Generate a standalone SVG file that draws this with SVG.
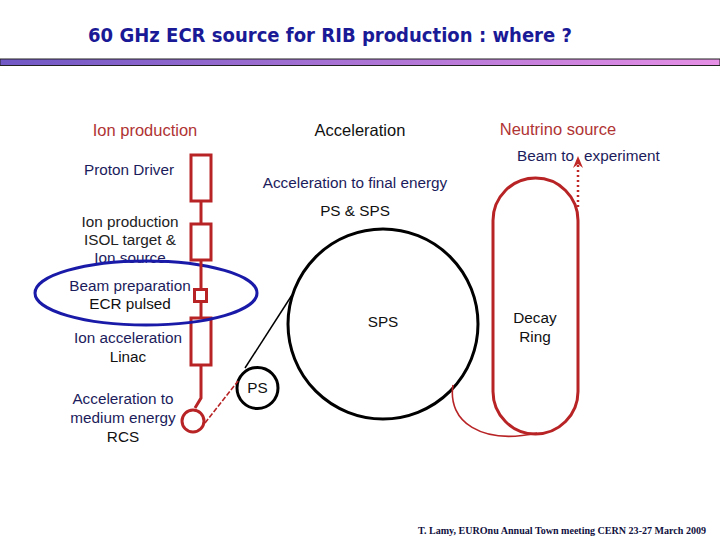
<svg xmlns="http://www.w3.org/2000/svg" width="720" height="540" viewBox="0 0 720 540">
<defs>
<linearGradient id="bar" x1="0" y1="0" x2="1" y2="0">
<stop offset="0" stop-color="#7058c4"/>
<stop offset="1" stop-color="#e690e6"/>
</linearGradient>
<marker id="arr" viewBox="0 0 12 10" refX="11" refY="5" markerWidth="12" markerHeight="10" orient="auto" markerUnits="userSpaceOnUse">
<path d="M12,5 L0,0 L4,5 L0,10 Z" fill="#c02828"/>
</marker>
<style>
text{font-family:"Liberation Sans",Arial,sans-serif;font-size:15.3px;text-anchor:middle}
.nv{fill:#1c1c5c}
.bk{fill:#111}
.hd{fill:#b03434;font-size:16.5px}
.red{fill:none;stroke:#b82426;stroke-width:3}
.thin{fill:none;stroke:#b82426;stroke-width:1.6}
.blk{fill:none;stroke:#000;stroke-width:3}
</style>
</defs>
<rect width="720" height="540" fill="#fff"/>
<g id="title">
<text x="330" y="42" style="font-family:'DejaVu Sans',sans-serif;font-size:19px;font-weight:bold;fill:#1a1a96" textLength="484" lengthAdjust="spacingAndGlyphs">60 GHz ECR source for RIB production : where ?</text>
<rect x="0" y="59" width="720" height="6.5" fill="url(#bar)" stroke="#222" stroke-width="1"/>
</g>
<g id="headers">
<text class="hd" x="145" y="136">Ion production</text>
<text class="bk" x="360" y="136" style="font-size:16.5px">Acceleration</text>
<text class="hd" x="558" y="135">Neutrino source</text>
</g>
<g id="proton-driver">
<rect x="191" y="155" width="20" height="46" class="red"/>
<text class="nv" x="129" y="175">Proton Driver</text>
</g>
<g id="isol">
<rect x="191" y="224" width="20" height="36" class="red"/>
<text class="bk" x="130" y="227" style="fill:#222">Ion production</text>
<text class="bk" x="130" y="245" style="fill:#222">ISOL target &amp;</text>
<text class="nv" x="130" y="263">Ion source</text>
</g>
<g id="ecr">
<rect x="194.5" y="289.5" width="12" height="12" class="red"/>
<text class="nv" x="130" y="291">Beam preparation</text>
<text class="bk" x="130" y="309">ECR pulsed</text>
</g>
<g id="linac">
<rect x="191" y="318" width="20" height="47" class="red"/>
<text class="nv" x="128" y="343">Ion acceleration</text>
<text class="bk" x="128" y="362">Linac</text>
</g>
<g id="rcs">
<circle cx="193" cy="421" r="11" class="red"/>
<text class="nv" x="123" y="404">Acceleration to</text>
<text class="nv" x="123" y="423">medium energy</text>
<text class="bk" x="123" y="442">RCS</text>
</g>
<g id="highlight">
<ellipse cx="146" cy="293" rx="111" ry="32" fill="none" stroke="#1a1aa8" stroke-width="3"/>
</g>
<g id="ps">
<circle cx="257.5" cy="388" r="20.5" class="blk"/>
<text class="bk" x="257.5" y="393">PS</text>
</g>
<g id="sps">
<circle cx="383" cy="324" r="95" class="blk"/>
<text class="bk" x="383" y="327">SPS</text>
<text class="nv" x="355" y="188">Acceleration to final energy</text>
<text class="bk" x="355" y="216">PS &amp; SPS</text>
</g>
<g id="decay-ring">
<rect x="493" y="178" width="85" height="256" rx="42.5" ry="42.5" class="red"/>
<text class="bk" x="535" y="323">Decay</text>
<text class="bk" x="535" y="342">Ring</text>
<text class="nv" x="517" y="161" style="text-anchor:start">Beam to<tspan x="584">experiment</tspan></text>
</g>
<g id="connectors">
<line x1="201" y1="201" x2="201" y2="223" class="red" stroke-width="2"/>
<line x1="201" y1="260" x2="201" y2="289" class="red" stroke-width="2"/>
<line x1="201" y1="302" x2="201" y2="318" class="red" stroke-width="2"/>
<polyline points="201,365 201,398 195,408" class="red" stroke-width="2"/>
<line x1="205" y1="423" x2="238" y2="381" class="thin" stroke-width="1.2" stroke-dasharray="5,2"/>
<line x1="245" y1="368" x2="292" y2="295" stroke="#000" stroke-width="1.5"/>
<path d="M453,385 C447,422 482,445 537,433" class="thin" stroke-width="1.4"/>
<line x1="578" y1="207" x2="578" y2="157" stroke="#c02828" stroke-width="2.5" stroke-dasharray="2,3" marker-end="url(#arr)"/>
</g>
<g id="footer">
<text x="562" y="534" style="font-family:'Liberation Serif',serif;font-size:10px;font-weight:bold;fill:#101040" textLength="288" lengthAdjust="spacingAndGlyphs">T. Lamy, EUROnu Annual Town meeting CERN 23-27 March 2009</text>
</g>
</svg>
